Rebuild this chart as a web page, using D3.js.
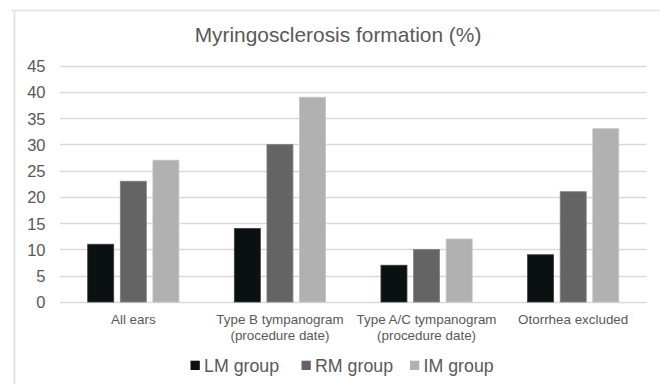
<!DOCTYPE html>
<html>
<head>
<meta charset="utf-8">
<script src="https://cdn.jsdelivr.net/npm/d3@7"></script>
<style>
  html, body { margin: 0; padding: 0; background: #fff; }
  svg { display: block; font-family: "Liberation Sans", Arial, sans-serif; }
</style>
</head>
<body>
<svg id="chart" width="660" height="384"></svg>
<script>
// Categories (two-line labels) and per-group percentages
const categories = ["All ears", "Type B tympanogram|(procedure date)", "Type A/C tympanogram|(procedure date)", "Otorrhea excluded"];
const groups = ["LM group", "RM group", "IM group"];
const lmValues = [11, 14, 7, 9];
const rmValues = [23, 30, 10, 21];
const imValues = [27, 39, 12, 33];
const yTicks = [0, 5, 10, 15, 20, 25, 30, 35, 40, 45];
const groupColors = ["#0b1013", "#646464", "#b1b1b1"];
const groupStrokes = ["#3c3c3c", "#808080", "#c4c4c4"];

const seriesValues = [lmValues, rmValues, imValues];
const rows = categories.map((c, i) => ({
  category: c,
  values: groups.map((g, j) => ({ group: g, value: seriesValues[j][i] }))
}));

const svg = d3.select("#chart");
const margin = { left: 60, right: 13.5, top: 65.7, bottom: 82 };
const W = 660, H = 384;

// Chart area frame (top and left edges visible)
svg.append("line").attr("x1", 11).attr("x2", 660).attr("y1", 10.5).attr("y2", 10.5)
  .attr("stroke", "#e3e3e3").attr("stroke-width", 1.5);
svg.append("line").attr("x1", 14.5).attr("x2", 14.5).attr("y1", 10).attr("y2", 384)
  .attr("stroke", "#e3e3e3").attr("stroke-width", 2);

const x0 = d3.scaleBand().domain(categories).range([margin.left, W - margin.right]).paddingInner(0).paddingOuter(0);
const y = d3.scaleLinear().domain([0, 45]).range([H - margin.bottom, margin.top]);

// Title
svg.append("text").attr("x", 338).attr("y", 41.5).attr("text-anchor", "middle")
  .attr("font-size", 20.9).attr("fill", "#595959").text("Myringosclerosis formation (%)");

// Gridlines
svg.append("g").selectAll("line").data(yTicks).join("line")
  .attr("x1", margin.left).attr("x2", W - margin.right)
  .attr("y1", d => Math.round(y(d)) + 0.5).attr("y2", d => Math.round(y(d)) + 0.5)
  .attr("stroke", "#d9d9d9").attr("stroke-width", 1.3);

// Y axis labels
const yAxis = d3.axisLeft(y).tickValues(yTicks).tickSize(0).tickPadding(0);
const gy = svg.append("g").attr("transform", `translate(45.5,0)`).call(yAxis);
gy.select(".domain").remove();
gy.selectAll("text").attr("font-size", 16.5).attr("fill", "#595959")
  .attr("font-family", "Liberation Sans, Arial, sans-serif").attr("dy", "0.36em");

// Bars
const barW = 26;
const step = 32.6;
const x1 = d3.scaleBand().domain(groups).range([0, step * 3]).paddingInner(0).paddingOuter(0);
const g = svg.append("g");
rows.forEach(r => {
  const cx = x0(r.category) + x0.bandwidth() / 2;
  g.selectAll(null).data(r.values).join("rect")
    .attr("x", d => cx - step * 1.5 + x1(d.group) + (step - barW) / 2)
    .attr("width", barW)
    .attr("y", d => y(d.value))
    .attr("height", d => y(0) - y(d.value))
    .attr("fill", (d, j) => groupColors[j])
    .attr("stroke", (d, j) => groupStrokes[j])
    .attr("stroke-width", 0.8);
});

// X category labels
const gx = svg.append("g");
categories.forEach(c => {
  const cx = x0(c) + x0.bandwidth() / 2;
  const lines = c.split("|");
  const t = gx.append("text").attr("x", cx).attr("y", 323.5).attr("text-anchor", "middle")
    .attr("font-size", 13.4).attr("fill", "#595959");
  lines.forEach((ln, i) => {
    t.append("tspan").attr("x", cx).attr("dy", i === 0 ? 0 : 16).text(ln);
  });
});

// Legend
const legendX = [190.5, 301.5, 410];
const lg = svg.append("g");
groups.forEach((gname, j) => {
  lg.append("rect").attr("x", legendX[j]).attr("y", 360.7).attr("width", 9.3).attr("height", 9.3)
    .attr("fill", groupColors[j]);
  lg.append("text").attr("x", legendX[j] + 13.5).attr("y", 371.8)
    .attr("font-size", 17.8).attr("fill", "#595959").text(gname);
});
</script>
</body>
</html>
